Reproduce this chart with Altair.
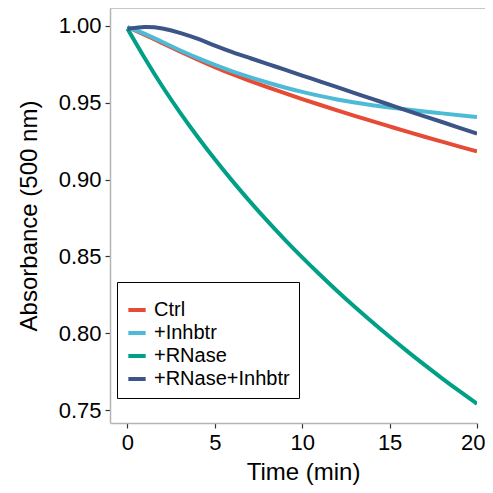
import altair as alt
import pandas as pd

times = list(range(0, 21))
series_names = ["Ctrl", "+Inhbtr", "+RNase", "+RNase+Inhbtr"]
colors = ["#E64B35", "#4DBBD5", "#00A087", "#3C5488"]

ctrl = [0.999, 0.994, 0.9886, 0.9832, 0.978, 0.973, 0.9684, 0.9641, 0.9600, 0.9561, 0.9523,
        0.9486, 0.9450, 0.9414, 0.9379, 0.9345, 0.9311, 0.9278, 0.9246, 0.9214, 0.9183]
inhbtr = [0.999, 0.995, 0.9893, 0.984, 0.979, 0.9745, 0.9703, 0.9665, 0.963, 0.9598, 0.9569,
          0.9543, 0.952, 0.950, 0.9483, 0.9468, 0.9455, 0.9442, 0.943, 0.9418, 0.9406]
rnase = [0.998, 0.9784, 0.9602, 0.9435, 0.9278, 0.9130, 0.8990, 0.8857, 0.8730, 0.8609, 0.8493,
         0.8382, 0.8275, 0.8172, 0.8073, 0.7977, 0.7884, 0.7794, 0.7707, 0.7623, 0.7542]
rnase_inhbtr = [0.998, 0.9995, 0.9985, 0.9955, 0.9917, 0.9870, 0.9828, 0.9790, 0.9752, 0.9714, 0.9676,
                0.9638, 0.9600, 0.9562, 0.9524, 0.9486, 0.9448, 0.9411, 0.9374, 0.9336, 0.9298]

x_ticks = [0, 5, 10, 15, 20]
y_ticks = [0.75, 0.80, 0.85, 0.90, 0.95, 1.00]

rows = []
for name, vals in zip(series_names, [ctrl, inhbtr, rnase, rnase_inhbtr]):
    for t, v in zip(times, vals):
        rows.append({"Sample": name, "Time": t, "Absorbance": v})
df = pd.DataFrame(rows)

W, H = 367, 415
FONT = "Liberation Sans"

lines = alt.Chart(df).mark_line(strokeWidth=4, interpolate="basis", clip=True).encode(
    x=alt.X("Time:Q", scale=alt.Scale(domain=[-1, 20.0], nice=False, zero=False),
            axis=alt.Axis(values=x_ticks, title="Time (min)", format="d",
                          labelFlush=True, labelFlushOffset=8, titleX=193)),
    y=alt.Y("Absorbance:Q", scale=alt.Scale(domain=[0.7417, 1.0115], nice=False, zero=False),
            axis=alt.Axis(values=y_ticks, title="Absorbance (500 nm)", format=".2f")),
    color=alt.Color("Sample:N", sort=series_names,
                    scale=alt.Scale(domain=series_names, range=colors),
                    legend=alt.Legend(title=" ", orient="none", legendX=7, legendY=274,
                                      symbolType="stroke", symbolStrokeWidth=4, symbolSize=300,
                                      labelFontSize=20, labelFont=FONT, titleFontSize=6,
                                      titlePadding=2, padding=9, strokeColor="black",
                                      fillColor="white", rowPadding=2, labelOffset=6,
                                      labelColor="black")),
    order=alt.Order("Sample:N"),
    detail="Sample:N",
)

top_border = alt.Chart(pd.DataFrame({"a": [0]})).mark_rule(color="#b5b5b5", strokeWidth=1.5, clip=False).encode(
    y=alt.value(0), x=alt.value(0), x2=alt.value(W + 8)
)

chart = alt.layer(lines, top_border).properties(
    width=W, height=H,
    autosize=alt.AutoSizeParams(type="none"),
    padding={"left": 102, "top": 0, "right": 8, "bottom": 62},
).configure_view(stroke=None).configure_axis(
    labelFont=FONT, titleFont=FONT, labelFontSize=22, titleFontSize=24,
    labelColor="black", titleColor="black", titleFontWeight="normal",
    domainColor="#b5b5b5", domainWidth=1.5, tickColor="#333333", tickSize=5,
    tickWidth=1.2, grid=False, labelPadding=4,
).configure_axisX(titlePadding=7).configure_axisY(titlePadding=17)

chart.save("out.html", embed_options={"renderer": "svg", "actions": False})
